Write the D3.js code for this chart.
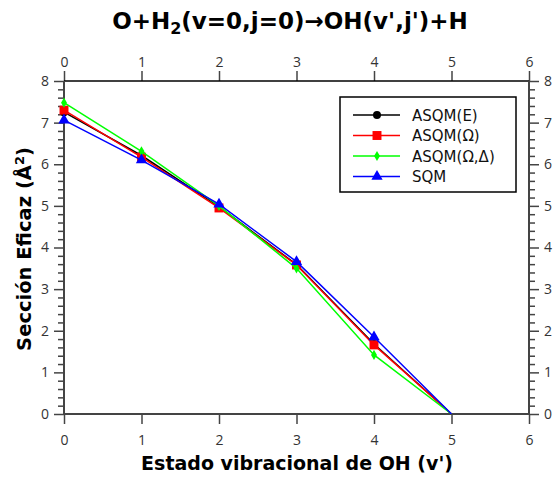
<!DOCTYPE html>
<html>
<head>
<meta charset="utf-8">
<script src="https://cdn.jsdelivr.net/npm/d3@7"></script>
<style>
  body { margin: 0; background: #fff; }
  text { font-family: "Open Sans", "DejaVu Sans", sans-serif; }
  .big { font-family: "DejaVu Sans", sans-serif; font-weight: bold; }
  .leg { font-family: "DejaVu Sans", sans-serif; }
</style>
</head>
<body>
<div id="chart"></div>
<script>
//Chart data
var states = [0, 1, 2, 3, 4, 5];
var asqmE = [7.25, 6.21, 4.98, 3.59, 1.68, 0];
var asqmOmega = [7.30, 6.17, 4.95, 3.58, 1.66, 0];
var asqmOmegaDelta = [7.48, 6.31, 5.00, 3.50, 1.42, 0];
var sqm = [7.06, 6.10, 5.04, 3.66, 1.85, 0];
var seriesNames = ["ASQM(E)", "ASQM(\u03A9)", "ASQM(\u03A9,\u0394)", "SQM"];
var xTicks = [0, 1, 2, 3, 4, 5, 6];
var yTicks = [0, 1, 2, 3, 4, 5, 6, 7, 8];

var W = 558, H = 477;
var margin = {top: 81, right: 29, bottom: 63, left: 64},
	w = W - margin.left - margin.right,
	h = H - margin.top - margin.bottom;

var svg = d3.select("#chart").append("svg")
	.attr("width", W)
	.attr("height", H);

var g = svg.append("g")
	.attr("transform", "translate(" + margin.left + "," + margin.top + ")");

var x = d3.scaleLinear().domain([0, 6]).range([0, w]);
var y = d3.scaleLinear().domain([0, 8]).range([h, 0]);

var axisColor = "#444";

//Axes: bottom and top with majors only, left and right with minors
function styleAxis(sel) {
	sel.select(".domain").remove();
	sel.selectAll("text").attr("fill", "#333").style("font-size", "14px");
	sel.selectAll("line").attr("stroke", axisColor).attr("stroke-width", 1.5);
}

var minorY = d3.range(0, 8.01, 0.2).filter(function(d) { return Math.abs(d - Math.round(d)) > 1e-6; });

g.append("g").attr("transform", "translate(0," + h + ")")
	.call(d3.axisBottom(x).tickValues(xTicks).tickSize(10).tickPadding(11).tickFormat(d3.format("d")))
	.call(styleAxis);
g.append("g")
	.call(d3.axisTop(x).tickValues(xTicks).tickSize(10).tickPadding(4).tickFormat(d3.format("d")))
	.call(styleAxis);
g.append("g")
	.call(d3.axisLeft(y).tickValues(yTicks).tickSize(10).tickPadding(5).tickFormat(d3.format("d")))
	.call(styleAxis);
g.append("g").attr("transform", "translate(" + w + ",0)")
	.call(d3.axisRight(y).tickValues(yTicks).tickSize(10).tickPadding(5).tickFormat(d3.format("d")))
	.call(styleAxis);
g.append("g")
	.call(d3.axisLeft(y).tickValues(minorY).tickSize(6).tickFormat(""))
	.call(styleAxis);
g.append("g").attr("transform", "translate(" + w + ",0)")
	.call(d3.axisRight(y).tickValues(minorY).tickSize(6).tickFormat(""))
	.call(styleAxis);

//Frame
g.append("line").attr("x1", 0).attr("x2", w).attr("y1", 0).attr("y2", 0)
	.attr("stroke", "#000").attr("stroke-width", 1.5);
g.append("line").attr("x1", 0).attr("x2", w).attr("y1", h).attr("y2", h)
	.attr("stroke", axisColor).attr("stroke-width", 2);
g.append("line").attr("x1", 0).attr("x2", 0).attr("y1", 0).attr("y2", h)
	.attr("stroke", axisColor).attr("stroke-width", 2);
g.append("line").attr("x1", w).attr("x2", w).attr("y1", 0).attr("y2", h)
	.attr("stroke", axisColor).attr("stroke-width", 2);

//Series
var series = [
	{name: seriesNames[0], values: asqmE, color: "#000000", symbol: d3.symbolCircle, size: 50},
	{name: seriesNames[1], values: asqmOmega, color: "#ff0000", symbol: d3.symbolSquare, size: 80},
	{name: seriesNames[2], values: asqmOmegaDelta, color: "#00ff00", symbol: d3.symbolDiamond, size: 30},
	{name: seriesNames[3], values: sqm, color: "#0000ff", symbol: d3.symbolTriangle, size: 55}
];

var line = d3.line()
	.x(function(d, i) { return x(states[i]); })
	.y(function(d) { return y(d); });

series.forEach(function(s) {
	g.append("path")
		.datum(s.values)
		.attr("fill", "none")
		.attr("stroke", s.color)
		.attr("stroke-width", 1.5)
		.attr("d", line);
	g.selectAll(null)
		.data(s.values.slice(0, 5))
		.enter()
		.append("path")
		.attr("d", d3.symbol().type(s.symbol).size(s.size))
		.attr("fill", s.color)
		.attr("transform", function(d, i) { return "translate(" + x(states[i]) + "," + y(d) + ")"; });
});

//Legend
var lg = svg.append("g").attr("transform", "translate(340,97)");
lg.append("rect").attr("width", 176).attr("height", 95)
	.attr("fill", "#fff").attr("stroke", "#000").attr("stroke-width", 1.5);
series.forEach(function(s, i) {
	var ly = 18 + i * 20.5;
	lg.append("line").attr("x1", 13).attr("x2", 60).attr("y1", ly).attr("y2", ly)
		.attr("stroke", s.color).attr("stroke-width", 1.5);
	lg.append("path").attr("d", d3.symbol().type(s.symbol).size(s.size))
		.attr("fill", s.color)
		.attr("transform", "translate(37," + ly + ")");
	lg.append("text").attr("class", "leg").attr("x", 72).attr("y", ly + 5.5)
		.style("font-size", "15px").attr("fill", "#111")
		.text(s.name);
});

//Title and axis labels
var title = svg.append("text")
	.attr("class", "big")
	.attr("x", 290).attr("y", 29)
	.attr("text-anchor", "middle")
	.style("font-size", "23px");
title.append("tspan").text("O+H");
title.append("tspan").attr("dy", 5).style("font-size", "16px").text("2");
title.append("tspan").attr("dy", -5).text("(v=0,j=0)\u2192OH(v',j')+H");

svg.append("text")
	.attr("class", "big")
	.attr("x", 297).attr("y", 470)
	.attr("text-anchor", "middle")
	.style("font-size", "19px")
	.text("Estado vibracional de OH (v')");

var yl = svg.append("text")
	.attr("class", "big")
	.attr("transform", "translate(31,249) rotate(-90)")
	.attr("text-anchor", "middle")
	.style("font-size", "19.5px");
yl.append("tspan").text("Secci\u00F3n Eficaz (\u00C5");
yl.append("tspan").attr("dy", -7).style("font-size", "13px").text("2");
yl.append("tspan").attr("dy", 7).text(")");
</script>
</body>
</html>
